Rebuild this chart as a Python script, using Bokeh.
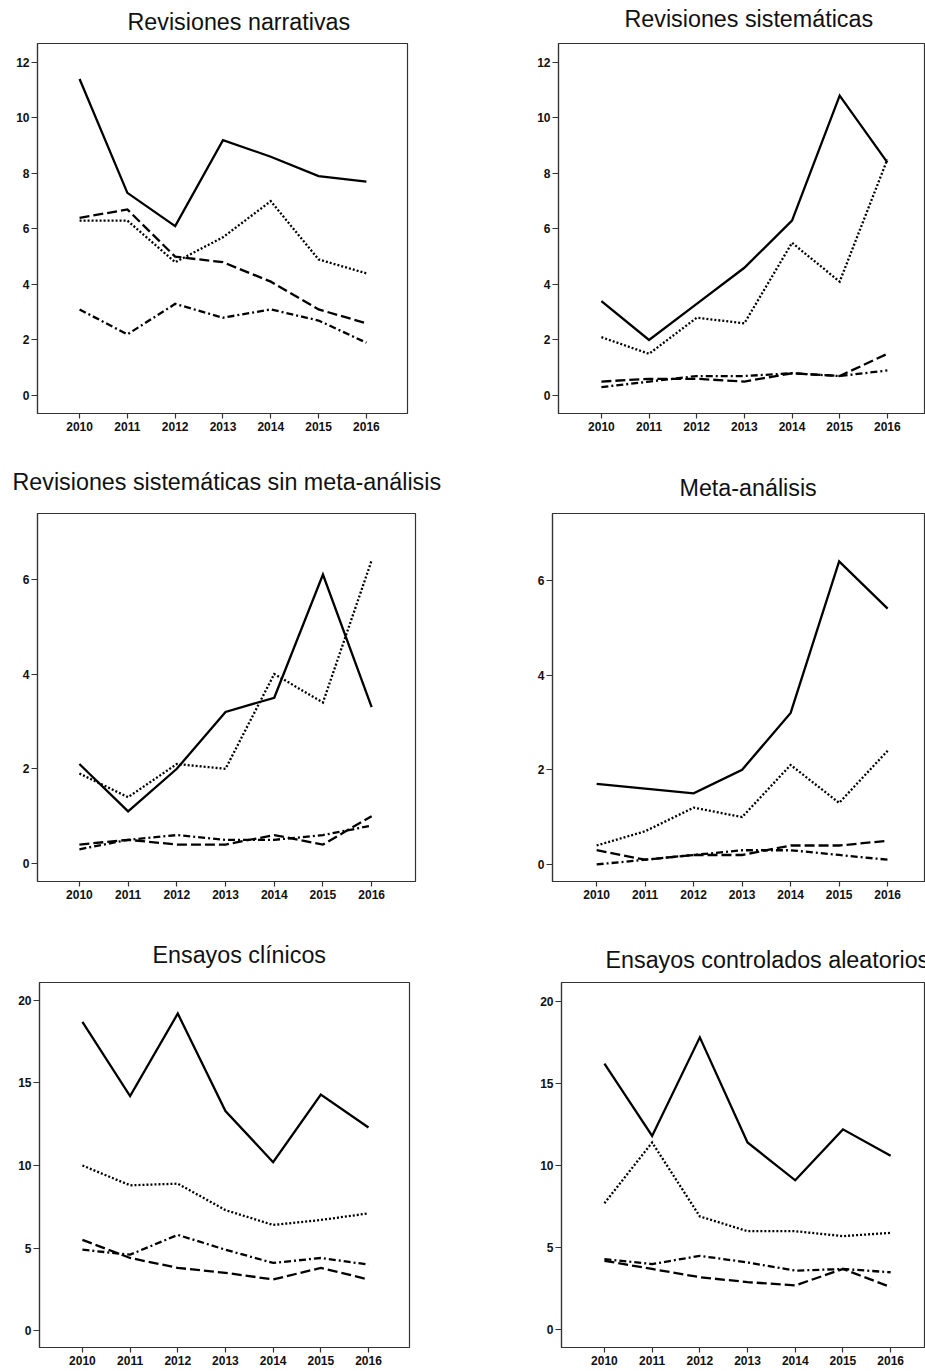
from bokeh.plotting import figure
from bokeh.layouts import column, row
from bokeh.models import FixedTicker, Range1d
from bokeh.embed import file_html
from bokeh.resources import INLINE

# Years on the horizontal axis
years = [2010, 2011, 2012, 2013, 2014, 2015, 2016]

# Revisiones narrativas
narr_1 = [11.4, 7.3, 6.1, 9.2, 8.6, 7.9, 7.7]
narr_2 = [6.3, 6.3, 4.8, 5.7, 7.0, 4.9, 4.4]
narr_3 = [6.4, 6.7, 5.0, 4.8, 4.1, 3.1, 2.6]
narr_4 = [3.1, 2.2, 3.3, 2.8, 3.1, 2.7, 1.9]

# Revisiones sistemáticas
sist_1 = [3.4, 2.0, 3.3, 4.6, 6.3, 10.8, 8.4]
sist_2 = [2.1, 1.5, 2.8, 2.6, 5.5, 4.1, 8.5]
sist_3 = [0.5, 0.6, 0.6, 0.5, 0.8, 0.7, 1.5]
sist_4 = [0.3, 0.5, 0.7, 0.7, 0.8, 0.7, 0.9]

# Revisiones sistemáticas sin meta-análisis
sinma_1 = [2.1, 1.1, 2.0, 3.2, 3.5, 6.1, 3.3]
sinma_2 = [1.9, 1.4, 2.1, 2.0, 4.0, 3.4, 6.4]
sinma_3 = [0.4, 0.5, 0.4, 0.4, 0.6, 0.4, 1.0]
sinma_4 = [0.3, 0.5, 0.6, 0.5, 0.5, 0.6, 0.8]

# Meta-análisis
meta_1 = [1.7, 1.6, 1.5, 2.0, 3.2, 6.4, 5.4]
meta_2 = [0.4, 0.7, 1.2, 1.0, 2.1, 1.3, 2.4]
meta_3 = [0.3, 0.1, 0.2, 0.2, 0.4, 0.4, 0.5]
meta_4 = [0.0, 0.1, 0.2, 0.3, 0.3, 0.2, 0.1]

# Ensayos clínicos
ec_1 = [18.7, 14.2, 19.2, 13.3, 10.2, 14.3, 12.3]
ec_2 = [10.0, 8.8, 8.9, 7.3, 6.4, 6.7, 7.1]
ec_3 = [5.5, 4.4, 3.8, 3.5, 3.1, 3.8, 3.1]
ec_4 = [4.9, 4.6, 5.8, 4.9, 4.1, 4.4, 4.0]

# Ensayos controlados aleatorios
eca_1 = [16.2, 11.8, 17.8, 11.4, 9.1, 12.2, 10.6]
eca_2 = [7.7, 11.4, 6.9, 6.0, 6.0, 5.7, 5.9]
eca_3 = [4.2, 3.7, 3.2, 2.9, 2.7, 3.7, 2.6]
eca_4 = [4.3, 4.0, 4.5, 4.1, 3.6, 3.7, 3.5]

# Y tick sets
ticks_12 = [0, 2, 4, 6, 8, 10, 12]
ticks_6 = [0, 2, 4, 6]
ticks_20 = [0, 5, 10, 15, 20]

# Line styles for the four series: solid, dotted, long dash, dash-dot
dashes = ["solid", "2 2", "10 4", "7 3 2 3"]

TICK_FONT = "'Liberation Sans Narrow', 'Arial Narrow', 'Liberation Sans', sans-serif"


def panel(title, series, yticks, xr, yr, size, borders, t_offset, t_standoff):
    w, h = size
    left, right, top, bottom = borders
    p = figure(width=w, height=h, output_backend="svg", toolbar_location=None,
               x_range=Range1d(*xr), y_range=Range1d(*yr),
               min_border_left=left, min_border_right=right,
               min_border_top=top, min_border_bottom=bottom,
               background_fill_color="white", border_fill_color="white",
               outline_line_color="#333333", outline_line_width=1.2)
    p.title.text = title
    p.title.align = "left"
    p.title.offset = t_offset
    p.title.standoff = t_standoff
    p.title.text_font = "Liberation Sans"
    p.title.text_font_style = "normal"
    p.title.text_font_size = "23.3px"
    p.title.text_color = "#111111"

    p.xgrid.visible = False
    p.ygrid.visible = False

    for ax in (p.xaxis[0], p.yaxis[0]):
        ax.axis_line_color = "#333333"
        ax.axis_line_width = 1.2
        ax.major_tick_line_color = "#333333"
        ax.major_tick_line_width = 1.2
        ax.major_tick_in = 0
        ax.minor_tick_line_color = None
        ax.major_label_text_font = TICK_FONT
        ax.major_label_text_font_style = "bold"
        ax.major_label_text_font_size = "12px"
        ax.major_label_text_color = "#111111"

    p.xaxis.ticker = FixedTicker(ticks=years)
    p.xaxis.major_tick_out = 5
    p.xaxis.major_label_standoff = 3
    p.yaxis.ticker = FixedTicker(ticks=yticks)
    p.yaxis.major_tick_out = 6
    p.yaxis.major_label_standoff = 2

    for vals, dash in zip(series, dashes):
        p.line(years, vals, line_color="black", line_width=2.3,
               line_dash=dash, line_join="miter")
    return p


p1 = panel("Revisiones narrativas", [narr_1, narr_2, narr_3, narr_4], ticks_12,
           (2009.12, 2016.86), (-0.65, 12.68), (500, 460), (37, 93, 59, 31), 90, 17)
p2 = panel("Revisiones sistemáticas", [sist_1, sist_2, sist_3, sist_4], ticks_12,
           (2009.1, 2016.78), (-0.65, 12.68), (425, 460), (58, 1, 59, 31), 66, 24)
p3 = panel("Revisiones sistemáticas sin meta-análisis", [sinma_1, sinma_2, sinma_3, sinma_4], ticks_6,
           (2009.14, 2016.9), (-0.38, 7.39), (500, 471), (37, 85, 68, 34), -25, 37)
p4 = panel("Meta-análisis", [meta_1, meta_2, meta_3, meta_4], ticks_6,
           (2009.09, 2016.76), (-0.36, 7.41), (425, 471), (52, 1, 69, 33), 127, 26)
p5 = panel("Ensayos clínicos", [ec_1, ec_2, ec_3, ec_4], ticks_20,
           (2009.1, 2016.86), (-1.02, 21.08), (500, 456), (39, 91, 64, 24), 113, 30)
p6 = panel("Ensayos controlados aleatorios", [eca_1, eca_2, eca_3, eca_4], ticks_20,
           (2009.1, 2016.71), (-1.08, 21.14), (425, 456), (61, 1, 67, 20), 44, 19)

# The first row is lifted so that its headings can sit close to the page top
layout = column(row(p1, p2, margin=(-16, 0, 0, 0)), row(p3, p4), row(p5, p6))

with open("out.html", "w") as f:
    f.write(file_html(layout, INLINE))
